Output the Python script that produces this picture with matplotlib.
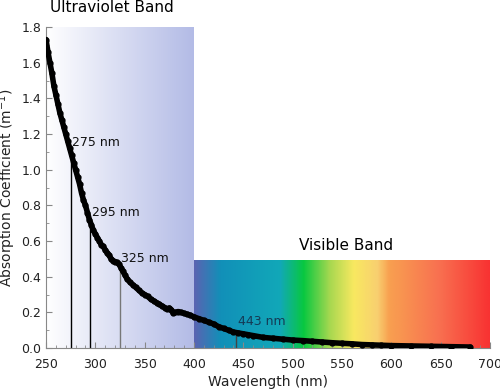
import numpy as np
import matplotlib
matplotlib.use("Agg")
import matplotlib.pyplot as plt
from matplotlib.colors import LinearSegmentedColormap
from matplotlib.ticker import MultipleLocator

plt.rcParams['font.family'] = ['DejaVu Sans']

# absorption spectrum
wavelength = [250, 252, 254, 256, 258, 260, 262, 264, 266, 268, 270, 272, 274,
              276, 278, 280, 282, 284, 286, 288, 290, 292, 294, 296, 298, 300,
              302, 304, 306, 308, 310, 312, 314, 316, 318, 320, 322, 324, 326,
              328, 330, 332, 335, 338, 341, 344, 347, 350, 353, 356, 359, 362,
              365, 368, 371, 373, 375, 377, 379, 381, 384, 387, 390, 393, 396,
              400, 405, 410, 415, 420, 425, 430, 435, 440, 445, 450, 455, 460,
              470, 480, 490, 500, 510, 520, 530, 540, 550, 560, 570, 580, 590,
              600, 620, 640, 660, 680]
absorption = [1.73, 1.66, 1.60, 1.54, 1.47, 1.42, 1.37, 1.32, 1.28, 1.24, 1.20,
              1.16, 1.12, 1.08, 1.04, 1.00, 0.96, 0.92, 0.87, 0.83, 0.80, 0.76,
              0.72, 0.69, 0.66, 0.64, 0.62, 0.60, 0.58, 0.57, 0.55, 0.535, 0.52,
              0.50, 0.49, 0.485, 0.48, 0.47, 0.45, 0.43, 0.41, 0.39, 0.37,
              0.355, 0.34, 0.325, 0.31, 0.30, 0.29, 0.275, 0.265, 0.255, 0.245,
              0.235, 0.225, 0.22, 0.225, 0.215, 0.195, 0.20, 0.205, 0.20, 0.195,
              0.19, 0.185, 0.175, 0.165, 0.155, 0.145, 0.135, 0.12, 0.11, 0.10,
              0.09, 0.085, 0.08, 0.075, 0.07, 0.06, 0.055, 0.05, 0.045, 0.042,
              0.038, 0.034, 0.03, 0.027, 0.024, 0.02, 0.018, 0.016, 0.014,
              0.012, 0.01, 0.008, 0.006]

# marked wavelengths
marks = [275, 295, 325, 443]
mark_values = [1.10, 0.70, 0.47, 0.085]
mark_colors = ["black", "black", "#777777", "#444444"]
mark_label_y = [1.15, 0.76, 0.50, 0.15]

# bands
uv_band = (250, 400, 1.8)
vis_band = (400, 700, 0.49)
uv_colors = ["#ffffff", "#b3bbe6"]
vis_stops = [0.0, 0.09, 0.29, 0.37, 0.46, 0.54, 0.62, 0.66, 0.83, 1.0]
vis_colors = ["#5a64b2", "#1190b8", "#12a8b8", "#08c840", "#a8d850",
              "#f8e860", "#f8d070", "#f8a050", "#f87050", "#f83232"]

fig = plt.figure(figsize=(5.0, 3.92), dpi=100)
ax = fig.add_axes([0.092, 0.112, 0.888, 0.819])

grad = np.linspace(0, 1, 256).reshape(1, -1)
uv_cmap = LinearSegmentedColormap.from_list("uv", uv_colors)
ax.imshow(grad, cmap=uv_cmap, aspect="auto", zorder=0,
          extent=[uv_band[0], uv_band[1], 0, uv_band[2]])
vis_cmap = LinearSegmentedColormap.from_list("vis", list(zip(vis_stops, vis_colors)))
ax.imshow(grad, cmap=vis_cmap, aspect="auto", zorder=0,
          extent=[vis_band[0], vis_band[1], 0, vis_band[2]])

for w, v, c in zip(marks, mark_values, mark_colors):
    ax.plot([w, w], [0, v], color=c, lw=1, zorder=2)

ax.plot(wavelength, absorption, color="black", lw=4, zorder=3,
        solid_capstyle="round")
ax.plot(wavelength, absorption, "o", color="black", ms=3.5, zorder=3)

for w, y in zip(marks, mark_label_y):
    col = "#153a55" if w == 443 else "#111111"
    ax.text(w + 1.5, y, f"{w} nm", fontsize=9, color=col, va="center",
            ha="left", zorder=4)

ax.text(317, 1.91, "Ultraviolet Band", fontsize=11, ha="center",
        va="center", clip_on=False)
ax.text(554, 0.578, "Visible Band", fontsize=11, ha="center", va="center")

ax.set_xlim(250, 700)
ax.set_ylim(0, 1.8)
ax.xaxis.set_major_locator(MultipleLocator(50))
ax.xaxis.set_minor_locator(MultipleLocator(10))
ax.yaxis.set_major_locator(MultipleLocator(0.2))
ax.yaxis.set_minor_locator(MultipleLocator(0.1))
ax.yaxis.set_major_formatter(matplotlib.ticker.FormatStrFormatter("%.1f"))
ax.tick_params(which="both", direction="in", colors="#888888",
               labelcolor="#222222", labelsize=9)
ax.tick_params(which="major", length=4)
ax.tick_params(which="minor", length=2.5)
ax.tick_params(axis="x", which="major", pad=7)
for s in ["top", "right"]:
    ax.spines[s].set_visible(False)
for s in ["left", "bottom"]:
    ax.spines[s].set_color("#888888")

ax.set_xlabel("Wavelength (nm)", fontsize=10, color="#222222", labelpad=3)
ax.set_ylabel("Absorption Coefficient (m$^{-1}$)", fontsize=10,
              color="#222222", labelpad=2)

fig.savefig("out.png", dpi=100)
